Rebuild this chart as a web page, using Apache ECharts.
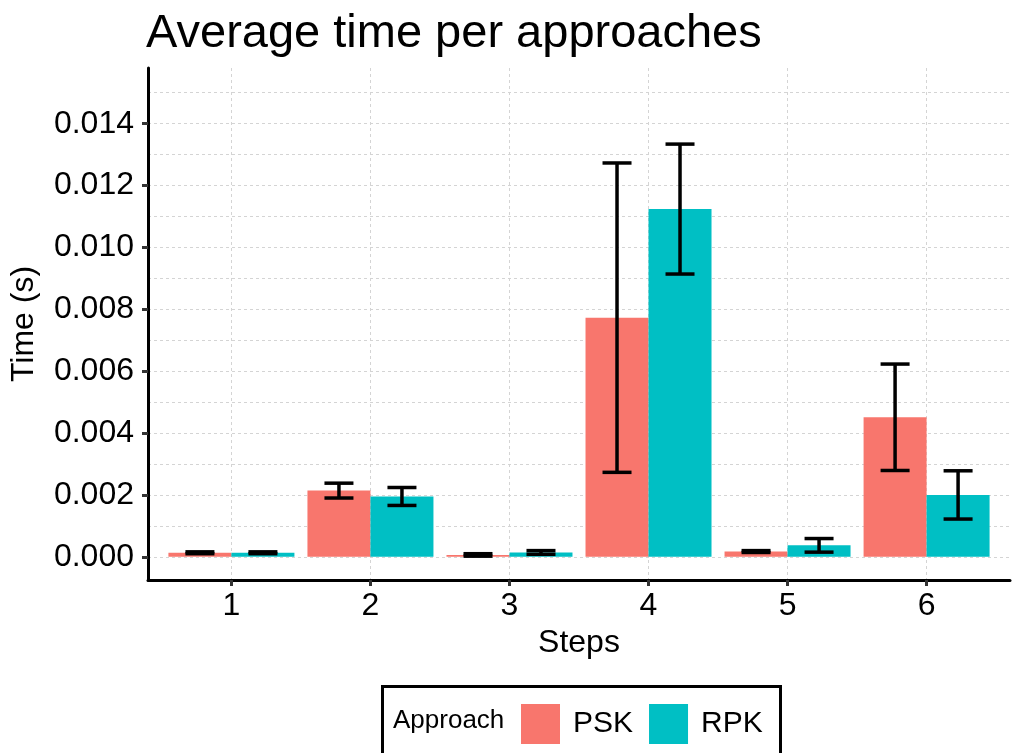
<!DOCTYPE html>
<html><head><meta charset="utf-8">
<script src="https://cdn.jsdelivr.net/npm/echarts@6/dist/echarts.min.js"></script>
<style>html,body{margin:0;padding:0;background:#fff}#c{width:1013px;height:753px}</style>
</head><body><div id="c"></div>
<script>
const steps = [1, 2, 3, 4, 5, 6];
const pskMean = [0.00013, 0.00214, 0.00006, 0.00773, 0.00017, 0.00451];
const pskErr  = [0.00003, 0.00024, 0.00004, 0.00500, 0.00003, 0.00172];
const rpkMean = [0.00013, 0.00195, 0.00014, 0.01124, 0.00037, 0.00200];
const rpkErr  = [0.00003, 0.00029, 0.00006, 0.00210, 0.00022, 0.00078];
const yTicks = [0, 0.002, 0.004, 0.006, 0.008, 0.010, 0.012, 0.014];
const yGrid = [0, 0.001, 0.002, 0.003, 0.004, 0.005, 0.006, 0.007, 0.008, 0.009, 0.010, 0.011, 0.012, 0.013, 0.014, 0.015];

const FONT = '"Liberation Sans", Arial, sans-serif';
const PSK_COLOR = '#F8766D', RPK_COLOR = '#00BFC4';
const BAR_W = 63, CAP_HALF = 14.5;

function errRender(offsetPx) {
  return function (params, api) {
    const s = api.value(0), m = api.value(1), e = api.value(2);
    const top = api.coord([s, m + e]);
    const bot = api.coord([s, m - e]);
    const cx = top[0] + offsetPx;
    const st = { stroke: '#000', lineWidth: 3.5 };
    return { type: 'group', children: [
      { type: 'line', shape: { x1: cx, y1: top[1], x2: cx, y2: bot[1] }, style: st },
      { type: 'line', shape: { x1: cx - CAP_HALF, y1: top[1], x2: cx + CAP_HALF, y2: top[1] }, style: st },
      { type: 'line', shape: { x1: cx - CAP_HALF, y1: bot[1], x2: cx + CAP_HALF, y2: bot[1] }, style: st }
    ]};
  };
}

const gridLine = { show: true, lineStyle: { color: '#d4d4d4', width: 1, type: [3, 3] } };

const chart = echarts.init(document.getElementById('c'));
chart.setOption({
  animation: false,
  backgroundColor: '#fff',
  textStyle: { fontFamily: FONT },
  title: {
    text: 'Average time per approaches', left: 141, top: 6,
    textStyle: { fontFamily: FONT, fontSize: 47, fontWeight: 'normal', color: '#000' }
  },
  grid: { left: 147, right: 3, top: 68, bottom: 173, containLabel: false },
  xAxis: [{
    type: 'value', min: 0.4, max: 6.6,
    axisLine: { show: true, onZero: false, lineStyle: { color: '#000', width: 3 } },
    axisTick: { show: true, customValues: steps, length: 6, lineStyle: { color: '#333', width: 3 } },
    axisLabel: { customValues: steps, formatter: v => String(v), fontSize: 32, color: '#000', margin: 10, fontFamily: FONT },
    splitLine: gridLine,
    name: 'Steps', nameLocation: 'middle', nameGap: 47,
    nameTextStyle: { fontSize: 32, color: '#000', fontFamily: FONT }
  }],
  yAxis: [{
    type: 'value', min: -0.00075, max: 0.0158,
    axisLine: { show: true, onZero: false, lineStyle: { color: '#000', width: 3 } },
    axisTick: { show: true, customValues: yTicks, length: 6, lineStyle: { color: '#333', width: 3 } },
    axisLabel: { customValues: yTicks, formatter: v => v.toFixed(3), fontSize: 32, color: '#000', margin: 14, fontFamily: FONT },
    splitLine: { show: false },
    name: 'Time (s)', nameLocation: 'middle', nameGap: 108,
    nameTextStyle: { fontSize: 32, color: '#000', fontFamily: FONT }
  }, {
    type: 'value', min: -0.00075, max: 0.0158, position: 'left',
    axisLine: { show: false }, axisTick: { show: false, customValues: yGrid },
    axisLabel: { show: false }, splitLine: gridLine
  }],
  legend: {
    data: ['PSK', 'RPK'], left: 516, top: 699, icon: 'rect',
    itemWidth: 39, itemHeight: 40, itemGap: 16,
    textStyle: { fontSize: 30, color: '#000', fontFamily: FONT, padding: [0, 0, 0, 8] },
    itemStyle: { borderWidth: 0 }
  },
  graphic: [
    { type: 'rect', left: 380, top: 684, shape: { width: 398, height: 75 },
      style: { fill: 'none', stroke: '#000', lineWidth: 3 }, z: 100 },
    { type: 'text', left: 393, top: 708,
      style: { text: 'Approach', font: '26px ' + FONT, fill: '#000' }, z: 100 }
  ],
  series: [
    { name: 'PSK', type: 'bar', barWidth: BAR_W, barGap: '0%',
      itemStyle: { color: PSK_COLOR },
      data: steps.map((s, i) => [s, pskMean[i]]) },
    { name: 'RPK', type: 'bar', barWidth: BAR_W, barGap: '0%',
      itemStyle: { color: RPK_COLOR },
      data: steps.map((s, i) => [s, rpkMean[i]]) },
    { name: 'PSK err', type: 'custom', renderItem: errRender(-BAR_W / 2), z: 10,
      data: steps.map((s, i) => [s, pskMean[i], pskErr[i]]) },
    { name: 'RPK err', type: 'custom', renderItem: errRender(BAR_W / 2), z: 10,
      data: steps.map((s, i) => [s, rpkMean[i], rpkErr[i]]) }
  ]
});
</script></body></html>
